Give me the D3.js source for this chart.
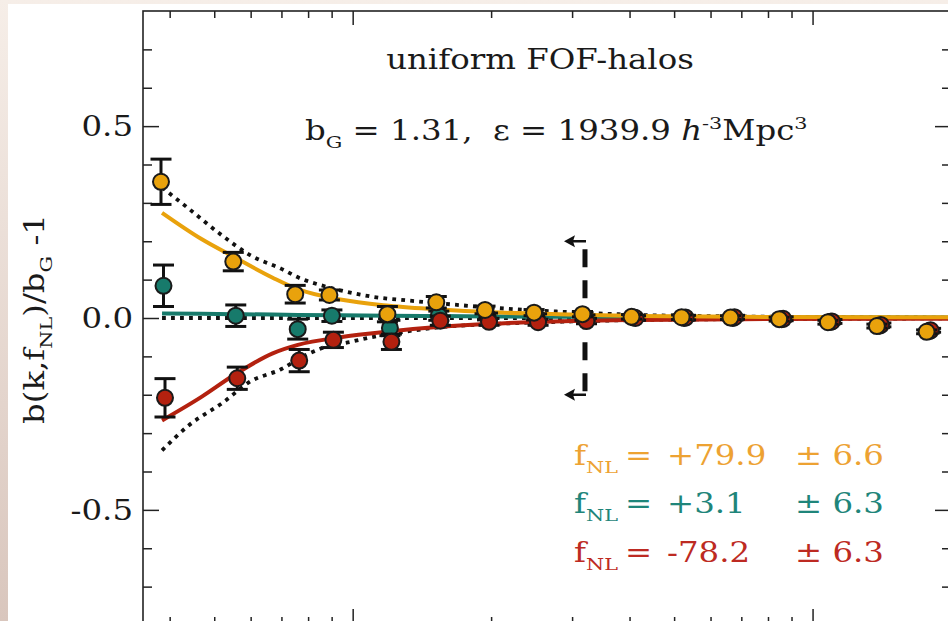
<!DOCTYPE html>
<head>
<meta charset="utf-8">
<title>uniform FOF-halos</title>
<style>
  body {
    margin: 0;
    padding: 0;
    width: 948px;
    height: 621px;
    overflow: hidden;
    background: linear-gradient(to bottom, #f6eee8, #d9c6bd);
  }
  svg { position: absolute; left: 0; top: 0; }
  text { font-family: 'DejaVu Serif', serif; fill: #1a1a1a; }
</style>
</head>
<body>
<div id="vis"></div>
<script src="https://cdn.jsdelivr.net/npm/d3@7"></script>
<script>
// measured k bins (h/Mpc) and b(k,fNL)/bG - 1 per series
var kBins   = [0.00383, 0.0055, 0.0075, 0.0089, 0.0119, 0.0152, 0.0194, 0.0248, 0.0316, 0.0404, 0.0519, 0.0663, 0.0846, 0.108, 0.138, 0.177];
var posPts  = [0.355, 0.147, 0.062, 0.060, 0.010, 0.041, 0.021, 0.014, 0.010, 0.003, 0.002, 0.001, -0.003, -0.011, -0.021, -0.036];
var posErr  = [0.059, 0.024, 0.023, 0.013, 0.020, 0.015, 0.010, 0.008, 0.007, 0.006, 0.006, 0.005, 0.005, 0.005, 0.005, 0.005];
var zeroPts = [0.084, 0.006, -0.029, 0.006, -0.026, 0.006, 0.004, 0.003, 0.001, 0.001, 0.000, 0.000, -0.003, -0.010, -0.020, -0.034];
var zeroErr = [0.054, 0.028, 0.026, 0.015, 0.020, 0.012, 0.009, 0.008, 0.007, 0.006, 0.006, 0.005, 0.005, 0.005, 0.005, 0.005];
var negPts  = [-0.208, -0.157, -0.111, -0.057, -0.062, -0.007, -0.010, -0.011, -0.008, 0.000, 0.001, 0.002, -0.002, -0.009, -0.018, -0.032];
var negErr  = [0.050, 0.029, 0.029, 0.020, 0.020, 0.012, 0.009, 0.008, 0.007, 0.006, 0.006, 0.005, 0.005, 0.005, 0.005, 0.005];

// best-fit model curves
var kModel    = [0.00385, 0.0047, 0.0055, 0.0067, 0.0076, 0.0094, 0.012, 0.0155, 0.02, 0.03, 0.042, 0.07, 0.2];
var posModel  = [0.274, 0.205, 0.160, 0.105, 0.075, 0.048, 0.032, 0.022, 0.015, 0.009, 0.005, 0.003, 0.002];
var zeroModel = [0.012, 0.011, 0.010, 0.009, 0.008, 0.007, 0.006, 0.005, 0.004, 0.003, 0.002, 0.002, 0.001];
var negModel  = [-0.267, -0.205, -0.150, -0.092, -0.070, -0.050, -0.035, -0.023, -0.015, -0.008, -0.005, -0.003, -0.002];

// input fNL predictions (dotted)
var kDot     = [0.00385, 0.0044, 0.0052, 0.006, 0.007, 0.0077, 0.0085, 0.01, 0.0111, 0.0131, 0.0155, 0.02, 0.03, 0.05, 0.2];
var dotUpper = [0.340, 0.285, 0.215, 0.163, 0.128, 0.103, 0.086, 0.065, 0.055, 0.046, 0.038, 0.027, 0.015, 0.006, 0.001];
var dotZero  = [0, 0, 0, 0, 0, 0, 0, 0, 0, 0, 0, 0, 0, 0, 0];
var dotLower = [-0.345, -0.280, -0.222, -0.165, -0.133, -0.104, -0.080, -0.061, -0.049, -0.035, -0.024, -0.016, -0.009, -0.004, -0.001];

var fnlValues = ['+79.9', '+3.1', '-78.2'];
var fnlErrors = ['6.6', '6.3', '6.3'];
var kCut = 0.032;

var xMajor = [0.01, 0.1];
var xMinor = [0.004, 0.005, 0.006, 0.007, 0.008, 0.009, 0.02, 0.03, 0.04, 0.05, 0.06, 0.07, 0.08, 0.09];
var yMajor = [-0.5, 0, 0.5];
var yMinor = [-0.7, -0.6, -0.4, -0.3, -0.2, -0.1, 0.1, 0.2, 0.3, 0.4, 0.6, 0.7];
var yLabels = ['-0.5', '0.0', '0.5'];

var orange = '#e9a20c', teal = '#177a6b', red = '#b3210f';
var fontSize = 27, sx = 1.2;

var frameL = 143, frameT = 11, frameR = 951, frameB = 625;
var x = d3.scaleLog().domain([0.0035, 0.2]).range([frameL, frameR]);
var y = d3.scaleLinear().domain([-0.8, 0.8]).range([frameB, frameT]);

var svg = d3.select('#vis').append('svg')
    .attr('width', 948)
    .attr('height', 621);

svg.append('rect')
    .attr('x', 8).attr('y', 4)
    .attr('width', 940).attr('height', 617)
    .attr('fill', '#fff');

// text helper: stretched serif with sub/superscripts
function rich(px, py, parts, opts) {
  opts = opts || {};
  var size = opts.size || fontSize;
  var g = svg.append('g')
      .attr('transform', 'translate(' + [px, py] + ')' + (opts.rotate ? ' rotate(' + opts.rotate + ')' : '') + ' scale(' + sx + ',1)');
  var t = g.append('text')
      .attr('text-anchor', opts.anchor || 'start')
      .style('font-size', size + 'px')
      .style('white-space', 'pre')
      .style('fill', opts.color || '#1a1a1a');
  var shift = 0;
  parts.forEach(function(p) {
    var s = typeof p === 'string' ? p : p[0],
        kind = typeof p === 'string' ? 'n' : p[1];
    var target = kind === 'sub' ? size * 0.3 : kind === 'sup' ? -size * 0.4 : 0;
    var ts = t.append('tspan').text(s).attr('dy', target - shift);
    shift = target;
    if (kind === 'sub' || kind === 'sup') ts.style('font-size', (size * 0.64) + 'px');
    if (kind === 'i') ts.style('font-style', 'italic');
  });
  return t;
}

// frame + ticks
function tickAxis(axis, vals, size, tr) {
  svg.append('g')
      .attr('transform', tr)
      .call(axis.tickValues(vals).tickSize(size).tickFormat(''))
      .call(function(g) { g.select('.domain').remove(); })
      .selectAll('line').attr('stroke', '#222').attr('stroke-width', 1.5);
}
tickAxis(d3.axisRight(y), yMajor, 16, 'translate(' + frameL + ',0)');
tickAxis(d3.axisRight(y), yMinor, 9, 'translate(' + frameL + ',0)');
tickAxis(d3.axisLeft(y), yMajor, 16, 'translate(' + frameR + ',0)');
tickAxis(d3.axisLeft(y), yMinor, 9, 'translate(' + frameR + ',0)');
tickAxis(d3.axisBottom(x), xMajor, 14, 'translate(0,' + frameT + ')');
tickAxis(d3.axisBottom(x), xMinor, 7, 'translate(0,' + frameT + ')');
tickAxis(d3.axisTop(x), xMajor, 16, 'translate(0,' + frameB + ')');
tickAxis(d3.axisTop(x), xMinor, 8, 'translate(0,' + frameB + ')');

svg.append('rect')
    .attr('x', frameL).attr('y', frameT)
    .attr('width', frameR - frameL).attr('height', frameB - frameT)
    .attr('fill', 'none')
    .attr('stroke', '#222')
    .attr('stroke-width', 1.6);

yMajor.forEach(function(v, i) {
  rich(frameL - 10, y(v) + 10, [yLabels[i]], { anchor: 'end' });
});
rich(44, 319, ['b(k,f', ['NL', 'sub'], ')/b', ['G', 'sub'], ' -1'], { anchor: 'middle', rotate: -90, size: 27 });

// curves: dotted predictions under the fitted lines
var plot = svg.append('g');
var line = d3.line()
    .x(function(d) { return x(d[0]); })
    .y(function(d) { return y(d[1]); })
    .curve(d3.curveMonotoneX);

[dotUpper, dotZero, dotLower].forEach(function(vals) {
  plot.append('path')
      .datum(d3.zip(kDot, vals))
      .attr('d', line)
      .attr('fill', 'none')
      .attr('stroke', '#111')
      .attr('stroke-width', 3.8)
      .attr('stroke-dasharray', '3.8,5.2');
});

[[zeroModel, teal], [negModel, red], [posModel, orange]].forEach(function(m) {
  plot.append('path')
      .datum(d3.zip(kModel, m[0]))
      .attr('d', line)
      .attr('fill', 'none')
      .attr('stroke', m[1])
      .attr('stroke-width', 4);
});

// scale cut marker
var xc = x(kCut);
plot.append('line')
    .attr('x1', xc).attr('x2', xc)
    .attr('y1', y(0.2)).attr('y2', y(-0.2))
    .attr('stroke', '#111')
    .attr('stroke-width', 5)
    .attr('stroke-dasharray', '18,13')
    .attr('stroke-dashoffset', 23);
[0.2, -0.2].forEach(function(v) {
  var yy = y(v);
  plot.append('line')
      .attr('x1', xc + 1).attr('x2', xc - 14)
      .attr('y1', yy).attr('y2', yy)
      .attr('stroke', '#111').attr('stroke-width', 2.5);
  plot.append('path')
      .attr('d', 'M' + (xc - 21) + ',' + yy + 'L' + (xc - 10) + ',' + (yy - 6) + 'L' + (xc - 12) + ',' + yy + 'L' + (xc - 10) + ',' + (yy + 6) + 'Z')
      .attr('fill', '#111');
});

// data points
var series = [
  { vals: zeroPts, errs: zeroErr, color: teal, dx: 2.5 },
  { vals: negPts, errs: negErr, color: red, dx: 4 },
  { vals: posPts, errs: posErr, color: orange, dx: 0 }
];
series.forEach(function(s) {
  var data = kBins.map(function(k, i) { return { k: k, v: s.vals[i], e: s.errs[i] }; });
  var g = plot.append('g').selectAll('g')
      .data(data)
      .enter().append('g')
      .attr('transform', function(d) { return 'translate(' + (x(d.k) + s.dx) + ',0)'; });
  g.append('line')
      .attr('y1', function(d) { return y(d.v - d.e); })
      .attr('y2', function(d) { return y(d.v + d.e); })
      .attr('stroke', '#111').attr('stroke-width', 3);
  [-1, 1].forEach(function(sgn) {
    g.append('line')
        .attr('x1', -10.5).attr('x2', 10.5)
        .attr('y1', function(d) { return y(d.v + sgn * d.e); })
        .attr('y2', function(d) { return y(d.v + sgn * d.e); })
        .attr('stroke', '#111').attr('stroke-width', 3);
  });
  g.append('circle')
      .attr('cy', function(d) { return y(d.v); })
      .attr('r', 8)
      .attr('fill', s.color)
      .attr('stroke', '#1a1a1a')
      .attr('stroke-width', 2);
});

// annotations
rich(540, 69, ['uniform FOF-halos'], { anchor: 'middle' });
rich(305, 140, ['b', ['G', 'sub'], ' = 1.31,  \u03b5 = 1939.9 ', ['h', 'i'], ['-3', 'sup'], 'Mpc', ['3', 'sup']]);

var legendColors = ['#eda232', '#1f857a', '#bd2a22'];
var legendBase = [465, 513, 562];
fnlValues.forEach(function(v, i) {
  var c = legendColors[i], yy = legendBase[i];
  rich(574, yy, ['f', ['NL', 'sub']], { color: c });
  rich(625, yy, ['='], { color: c });
  rich(667, yy, [v], { color: c });
  rich(795, yy, ['\u00b1 ' + fnlErrors[i]], { color: c });
});
</script>
</body>
